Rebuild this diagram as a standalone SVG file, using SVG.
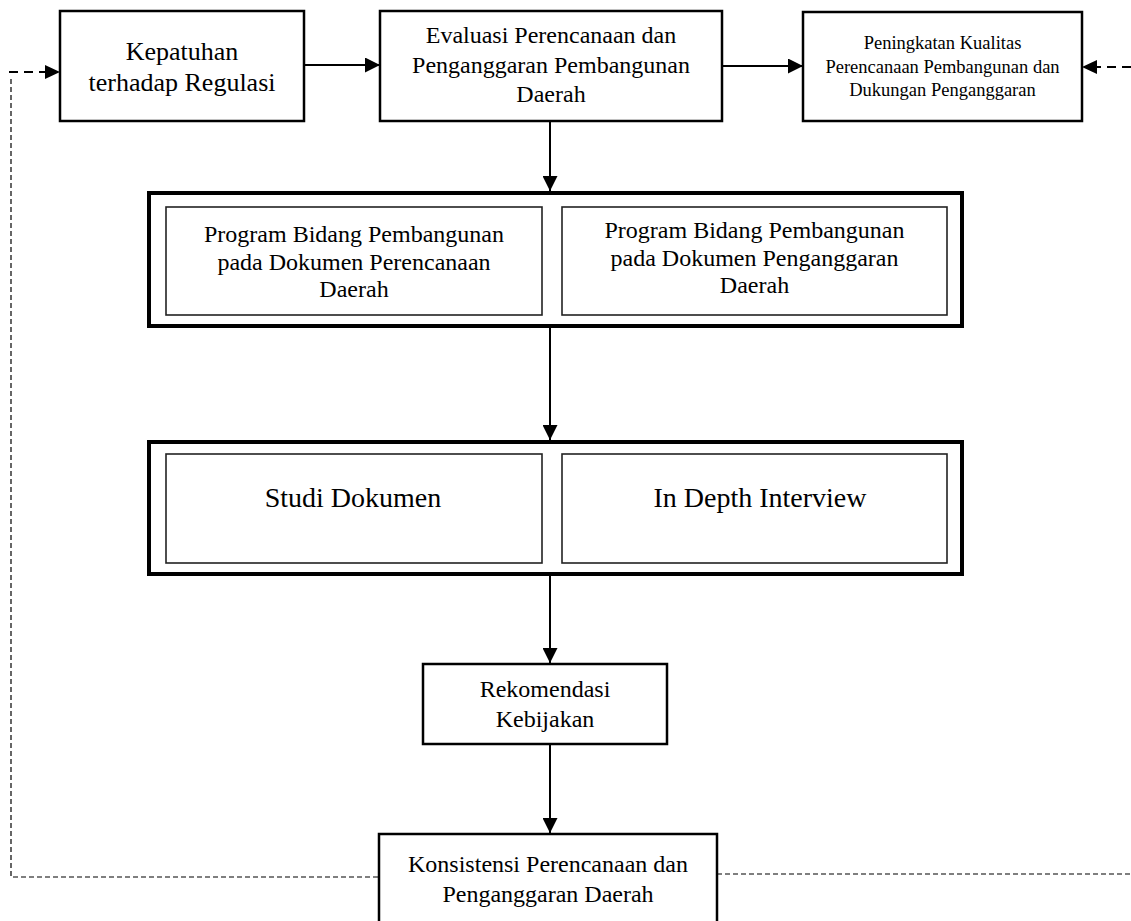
<svg xmlns="http://www.w3.org/2000/svg" width="1131" height="921" viewBox="0 0 1131 921">
<style>
.box{fill:#fff;stroke:#000;stroke-width:2.5}
.outer{fill:#fff;stroke:#000;stroke-width:4}
.inner{fill:#fff;stroke:#222;stroke-width:1.6}
.t{font-family:"Liberation Serif","Times New Roman",serif;fill:#000;text-anchor:middle}
.ln{stroke:#000;stroke-width:2;fill:none}
.dthick{stroke:#000;stroke-width:2;fill:none;stroke-dasharray:9 6}
.dthin{stroke:#000;stroke-width:1.2;fill:none;stroke-dasharray:5 3}
</style>
<defs>
<marker id="ah" markerWidth="8" markerHeight="8" refX="8" refY="4" orient="auto" markerUnits="userSpaceOnUse" viewBox="0 0 8 8">
<path d="M0,0 L8,4 L0,8 Z" fill="#000"/>
</marker>
<marker id="ah2" markerWidth="15" markerHeight="15" refX="15" refY="7.5" orient="auto" markerUnits="userSpaceOnUse" viewBox="0 0 15 15">
<path d="M0,0 L15,7.5 L0,15 Z" fill="#000"/>
</marker>
</defs>
<g id="connectors">
<line class="ln" x1="304" y1="65" x2="380" y2="65" marker-end="url(#ah2)"/>
<line class="ln" x1="722" y1="66" x2="803" y2="66" marker-end="url(#ah2)"/>
<line class="ln" x1="550" y1="121" x2="550" y2="191" marker-end="url(#ah2)"/>
<line class="ln" x1="550" y1="328" x2="550" y2="440" marker-end="url(#ah2)"/>
<line class="ln" x1="550" y1="576" x2="550" y2="663" marker-end="url(#ah2)"/>
<line class="ln" x1="550" y1="745" x2="550" y2="833" marker-end="url(#ah2)"/>
<line class="dthick" x1="9" y1="72" x2="46" y2="72"/>
<path d="M45,65 L60,72 L45,79 Z" fill="#000"/>
<polyline class="dthin" points="378,877 11,877 11,78"/>
<line class="dthin" x1="717" y1="874" x2="1131" y2="874"/>
<line class="dthick" x1="1131" y1="67" x2="1096" y2="67"/>
<path d="M1097,60 L1082,67 L1097,74 Z" fill="#000"/>
</g>
<g id="kepatuhan">
<rect class="box" x="60" y="11" width="244" height="110"/>
<text class="t" font-size="26" x="182" y="60">Kepatuhan</text>
<text class="t" font-size="26" x="182" y="91">terhadap Regulasi</text>
</g>
<g id="evaluasi">
<rect class="box" x="380" y="11" width="342" height="110"/>
<text class="t" font-size="24" x="551" y="43">Evaluasi Perencanaan dan</text>
<text class="t" font-size="24" x="551" y="73">Penganggaran Pembangunan</text>
<text class="t" font-size="24" x="551" y="102">Daerah</text>
</g>
<g id="peningkatan">
<rect class="box" x="803" y="12" width="279" height="109"/>
<text class="t" font-size="18.5" x="942.5" y="49">Peningkatan Kualitas</text>
<text class="t" font-size="18.5" x="942.5" y="73">Perencanaan Pembangunan dan</text>
<text class="t" font-size="18.5" x="942.5" y="96">Dukungan Penganggaran</text>
</g>
<g id="program-group">
<rect class="outer" x="149" y="193" width="813" height="133"/>
<g id="program-perencanaan">
<rect class="inner" x="166" y="207" width="376" height="108"/>
<text class="t" font-size="24" x="354" y="242">Program Bidang Pembangunan</text>
<text class="t" font-size="24" x="354" y="270">pada Dokumen Perencanaan</text>
<text class="t" font-size="24" x="354" y="297">Daerah</text>
</g>
<g id="program-penganggaran">
<rect class="inner" x="562" y="207" width="385" height="108"/>
<text class="t" font-size="24" x="754.5" y="238">Program Bidang Pembangunan</text>
<text class="t" font-size="24" x="754.5" y="266">pada Dokumen Penganggaran</text>
<text class="t" font-size="24" x="754.5" y="293">Daerah</text>
</g>
</g>
<g id="metode-group">
<rect class="outer" x="149" y="442" width="813" height="132"/>
<g id="studi-dokumen">
<rect class="inner" x="166" y="454" width="376" height="109"/>
<text class="t" font-size="28" x="353" y="507">Studi Dokumen</text>
</g>
<g id="in-depth-interview">
<rect class="inner" x="562" y="454" width="385" height="109"/>
<text class="t" font-size="28" x="760" y="507">In Depth Interview</text>
</g>
</g>
<g id="rekomendasi">
<rect class="box" x="423" y="664" width="244" height="80"/>
<text class="t" font-size="24" x="545" y="697">Rekomendasi</text>
<text class="t" font-size="24" x="545" y="727">Kebijakan</text>
</g>
<g id="konsistensi">
<rect class="box" x="379" y="834" width="338" height="100"/>
<text class="t" font-size="24" x="548" y="872">Konsistensi Perencanaan dan</text>
<text class="t" font-size="24" x="548" y="902">Penganggaran Daerah</text>
</g>
</svg>
